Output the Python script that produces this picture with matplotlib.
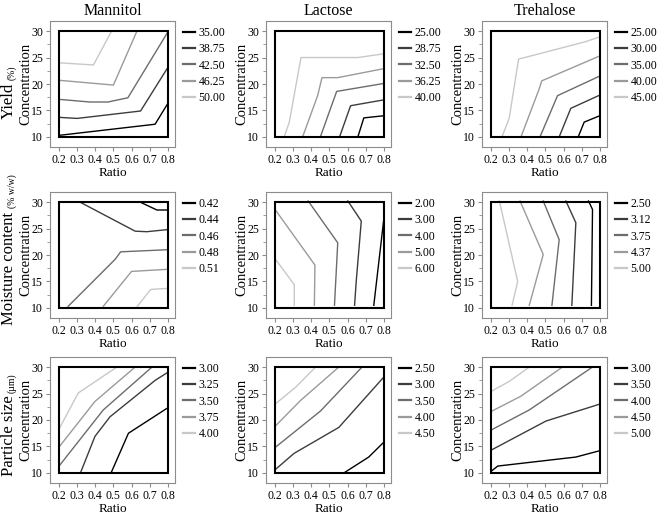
import matplotlib
matplotlib.use("Agg")
import matplotlib.pyplot as plt
from matplotlib.ticker import AutoMinorLocator, MultipleLocator
from matplotlib.patches import Rectangle

plt.rcParams['font.family'] = ['Liberation Serif', 'DejaVu Serif']

# column titles and row labels
excipients = ["Mannitol", "Lactose", "Trehalose"]
responses = ["Yield", "Moisture content", "Particle size"]
response_units = ["(%)", "(% w/w)", "(\u00b5m)"]

# design space
ratio_range = [0.2, 0.8]
conc_range = [10, 30]

# contour levels (legend labels), one list per panel
yield_mannitol_levels = ["35.00", "38.75", "42.50", "46.25", "50.00"]
yield_lactose_levels = ["25.00", "28.75", "32.50", "36.25", "40.00"]
yield_trehalose_levels = ["25.00", "30.00", "35.00", "40.00", "45.00"]
moisture_mannitol_levels = ["0.42", "0.44", "0.46", "0.48", "0.51"]
moisture_lactose_levels = ["2.00", "3.00", "4.00", "5.00", "6.00"]
moisture_trehalose_levels = ["2.50", "3.12", "3.75", "4.37", "5.00"]
size_mannitol_levels = ["3.00", "3.25", "3.50", "3.75", "4.00"]
size_lactose_levels = ["2.50", "3.00", "3.50", "4.00", "4.50"]
size_trehalose_levels = ["3.00", "3.50", "4.00", "4.50", "5.00"]

# contour lines: (ratio, concentration) per level
yield_mannitol_lines = [
    ([0.2, 0.73, 0.8], [10.3, 12.4, 16.3]),
    ([0.2, 0.3, 0.65, 0.8], [13.7, 13.5, 14.9, 23.1]),
    ([0.2, 0.37, 0.47, 0.58, 0.8], [17.1, 16.6, 16.6, 17.4, 29.8]),
    ([0.2, 0.5, 0.63], [20.7, 19.8, 30.0]),
    ([0.2, 0.39, 0.49], [24.0, 23.6, 30.0]),
]
yield_lactose_lines = [
    ([0.657, 0.69, 0.8], [10.0, 13.6, 14.0]),
    ([0.556, 0.617, 0.8], [10.0, 15.9, 17.0]),
    ([0.45, 0.54, 0.8], [10.0, 18.6, 20.1]),
    ([0.352, 0.435, 0.459, 0.546, 0.8], [10.0, 17.8, 21.2, 21.2, 22.9]),
    ([0.25, 0.278, 0.343, 0.657, 0.8], [10.0, 12.7, 25.0, 25.0, 25.7]),
]
yield_trehalose_lines = [
    ([0.681, 0.714, 0.8], [10.0, 12.8, 14.0]),
    ([0.576, 0.64, 0.8], [10.0, 15.4, 17.9]),
    ([0.47, 0.567, 0.8], [10.0, 17.8, 21.5]),
    ([0.365, 0.466, 0.48, 0.8], [10.0, 19.1, 20.6, 25.3]),
    ([0.26, 0.30, 0.352, 0.723, 0.8], [10.0, 13.5, 24.7, 28.0, 28.9]),
]
moisture_mannitol_lines = [
    ([0.647, 0.74, 0.8], [30.0, 28.5, 28.5]),
    ([0.315, 0.62, 0.684, 0.8], [30.0, 24.5, 24.4, 24.8]),
    ([0.25, 0.51, 0.54, 0.8], [10.3, 19.2, 20.6, 21.0]),
    ([0.444, 0.60, 0.8], [10.3, 16.9, 17.3]),
    ([0.632, 0.706, 0.8], [10.3, 13.5, 13.7]),
]
moisture_lactose_lines = [
    ([0.745, 0.8], [10.5, 26.7]),
    ([0.639, 0.648, 0.676, 0.602], [10.5, 15.0, 26.4, 30.2]),
    ([0.528, 0.546, 0.383], [10.5, 22.3, 30.2]),
    ([0.417, 0.42, 0.2], [10.5, 18.1, 28.6]),
    ([0.306, 0.306, 0.2], [10.5, 14.4, 19.3]),
]
moisture_trehalose_lines = [
    ([0.754, 0.76, 0.738], [10.5, 28.6, 30.2]),
    ([0.646, 0.668, 0.613], [10.5, 26.1, 30.2]),
    ([0.536, 0.576, 0.488], [10.5, 22.9, 30.2]),
    ([0.411, 0.488, 0.36], [10.5, 20.1, 30.2]),
    ([0.316, 0.347, 0.246], [10.5, 15.0, 30.2]),
]
size_mannitol_lines = [
    ([0.487, 0.583, 0.8], [10.0, 17.5, 22.3]),
    ([0.318, 0.398, 0.481, 0.731, 0.8], [10.0, 16.9, 20.6, 27.5, 29.0]),
    ([0.2, 0.444, 0.713], [11.3, 21.9, 30.0]),
    ([0.2, 0.398, 0.62], [14.9, 23.5, 30.0]),
    ([0.2, 0.306, 0.519], [18.3, 25.1, 30.0]),
]
size_lactose_lines = [
    ([0.58, 0.717, 0.8], [10.0, 13.0, 15.8]),
    ([0.2, 0.305, 0.552, 0.8], [10.6, 13.7, 18.6, 28.1]),
    ([0.2, 0.451, 0.68], [14.8, 21.7, 30.0]),
    ([0.2, 0.341, 0.552], [18.8, 23.7, 30.0]),
    ([0.2, 0.314, 0.424], [23.0, 26.2, 30.0]),
]
size_trehalose_lines = [
    ([0.2, 0.237, 0.668, 0.8], [10.3, 11.3, 13.0, 14.2]),
    ([0.2, 0.503, 0.8], [14.3, 19.8, 23.0]),
    ([0.2, 0.411, 0.76], [18.1, 21.9, 30.0]),
    ([0.2, 0.365, 0.594], [21.6, 24.5, 30.0]),
    ([0.2, 0.301, 0.411], [25.4, 27.3, 30.0]),
]

panels = [
    [(yield_mannitol_lines, yield_mannitol_levels),
     (yield_lactose_lines, yield_lactose_levels),
     (yield_trehalose_lines, yield_trehalose_levels)],
    [(moisture_mannitol_lines, moisture_mannitol_levels),
     (moisture_lactose_lines, moisture_lactose_levels),
     (moisture_trehalose_lines, moisture_trehalose_levels)],
    [(size_mannitol_lines, size_mannitol_levels),
     (size_lactose_lines, size_lactose_levels),
     (size_trehalose_lines, size_trehalose_levels)],
]

greys = ['#000000', '#3c3c3c', '#6c6c6c', '#9a9a9a', '#c8c8c8']
frame = '#8c8c8c'

W, H = 660, 521
fig = plt.figure(figsize=(W / 100, H / 100), dpi=100)

col_left = [50, 266, 482]
row_top = [21, 192, 357]
ax_w, ax_h = 125, 126

for r in range(3):
    for c in range(3):
        lines, levels = panels[r][c]
        ax = fig.add_axes([col_left[c] / W, 1 - (row_top[r] + ax_h) / H, ax_w / W, ax_h / H])

        handles = []
        for (xs, ys), lab, col in zip(lines, levels, greys):
            ax.plot(xs, ys, color=col, lw=1.0)
            h, = ax.plot([], [], color=col, lw=1.6, label=lab)
            handles.append(h)

        ax.add_patch(Rectangle((ratio_range[0], conc_range[0]),
                               ratio_range[1] - ratio_range[0],
                               conc_range[1] - conc_range[0],
                               fill=False, ec='black', lw=1.5, zorder=3))

        ax.set_xlim(0.15, 0.84)
        ax.set_ylim(8.1, 31.9)
        ax.yaxis.set_major_locator(MultipleLocator(5))
        ax.yaxis.set_minor_locator(AutoMinorLocator(2))
        ax.tick_params(which='both', direction='out', color=frame, labelsize=8.5, pad=2)
        ax.tick_params(which='major', length=3)
        ax.tick_params(which='minor', length=2)
        ax.set_xticks([0.2, 0.3, 0.4, 0.5, 0.6, 0.7, 0.8])
        ax.set_xticklabels(['0.2', '0.3', '0.4', '0.5', '0.6', '0.7', '0.8'])
        for s in ax.spines.values():
            s.set_color(frame)
            s.set_linewidth(0.8)

        ax.set_xlabel('Ratio', fontsize=9.5, labelpad=1)
        ax.set_ylabel('Concentration', fontsize=10.5, labelpad=-1)
        if r == 0:
            ax.set_title(excipients[c], fontsize=11.5, pad=4)

        ax.legend(handles=handles, loc='upper left', bbox_to_anchor=(1.065, 0.95),
                  frameon=False, fontsize=8.5, handlelength=1.0, handletextpad=0.3,
                  labelspacing=0.35, borderpad=0, borderaxespad=0)

# row labels with smaller unit text
row_center = [101, 268, 436]
fig.canvas.draw()
for r in range(3):
    t = fig.text(9 / W, 1 - row_center[r] / H, responses[r], rotation=90,
                 fontsize=12, ha='center', va='center')
    bb = t.get_window_extent(renderer=fig.canvas.get_renderer())
    fig.text(bb.x1 / W, (bb.y1 + 3) / H, response_units[r], rotation=90,
             fontsize=7, ha='right', va='bottom')

fig.savefig('out.png', dpi=100)
